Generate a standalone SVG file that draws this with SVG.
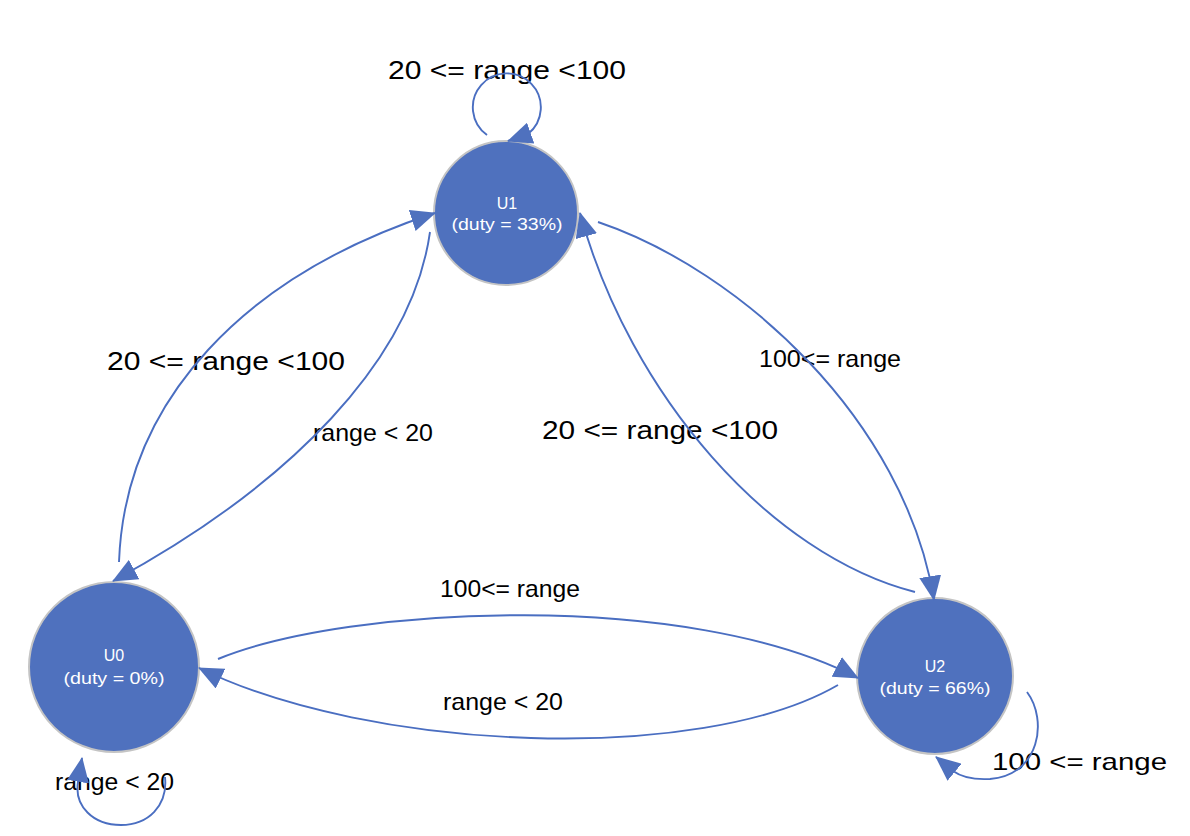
<svg xmlns="http://www.w3.org/2000/svg" width="1190" height="836" viewBox="0 0 1190 836">
<style>
.node circle{fill:#4f71be;stroke:#c4c4c4;stroke-width:2}
.node text{fill:#ffffff;font-family:"Liberation Sans",Arial,sans-serif;font-size:16px;text-anchor:middle}
.edge{fill:none;stroke:#4a6ec1;stroke-width:1.9;marker-end:url(#arr)}
.lbl{fill:#000000;font-family:"Liberation Sans",Arial,sans-serif;font-size:24px}
.big{font-size:26px}
</style>
<defs>
<marker id="arr" markerUnits="userSpaceOnUse" markerWidth="25" markerHeight="22" viewBox="0 0 25 22" refX="24" refY="11" orient="auto">
<path d="M0,0 L25,11 L0,22 z" fill="#4f71be"/>
</marker>
</defs>
<rect width="1190" height="836" fill="#ffffff"/>
<g id="labels">
<text class="lbl big" x="388" y="79" textLength="238" lengthAdjust="spacingAndGlyphs">20 &lt;= range &lt;100</text>
<text class="lbl big" x="107" y="370" textLength="238" lengthAdjust="spacingAndGlyphs">20 &lt;= range &lt;100</text>
<text class="lbl" x="313" y="441" textLength="120" lengthAdjust="spacingAndGlyphs">range &lt; 20</text>
<text class="lbl big" x="542" y="439" textLength="236" lengthAdjust="spacingAndGlyphs">20 &lt;= range &lt;100</text>
<text class="lbl" x="759" y="367" textLength="142" lengthAdjust="spacingAndGlyphs">100&lt;= range</text>
<text class="lbl" x="440" y="597" textLength="140" lengthAdjust="spacingAndGlyphs">100&lt;= range</text>
<text class="lbl" x="443" y="710" textLength="120" lengthAdjust="spacingAndGlyphs">range &lt; 20</text>
<text class="lbl" x="55" y="790" textLength="119" lengthAdjust="spacingAndGlyphs">range &lt; 20</text>
<text class="lbl" x="992" y="770" textLength="175" lengthAdjust="spacingAndGlyphs">100 &lt;= range</text>
</g>
<g id="U1" class="node">
<circle cx="506" cy="213" r="72"/>
<text x="507" y="209">U1</text>
<text x="507" y="230" textLength="111" lengthAdjust="spacingAndGlyphs">(duty = 33%)</text>
</g>
<g id="U0" class="node">
<circle cx="114" cy="667" r="85"/>
<text x="114" y="661">U0</text>
<text x="114" y="684" textLength="101" lengthAdjust="spacingAndGlyphs">(duty = 0%)</text>
</g>
<g id="U2" class="node">
<circle cx="935" cy="676" r="78"/>
<text x="935" y="672">U2</text>
<text x="935" y="694" textLength="111" lengthAdjust="spacingAndGlyphs">(duty = 66%)</text>
</g>
<g id="connectors">
<path class="edge" d="M119,562 C125,400 245,275 435,213"/>
<path class="edge" d="M430,232 C412,360 290,485 113,581"/>
<path class="edge" d="M598,222 C740,270 905,420 934,600"/>
<path class="edge" d="M915,592 C770,555 630,395 580,213"/>
<path class="edge" d="M218,659 C350,605 690,590 858,678"/>
<path class="edge" d="M838,685 C700,765 370,752 199,668"/>
<path class="edge" d="M487,135 A34,34 0 1 1 528,134 L508,141"/>
<path class="edge" d="M165,777 C168,806 148,825 121,825 C93,825 74,806 78,782 L82,758"/>
<path class="edge" d="M1027,692 C1048,720 1040,775 990,779 C972,780 960,776 953,771 L936,757"/>
</g>
</svg>
